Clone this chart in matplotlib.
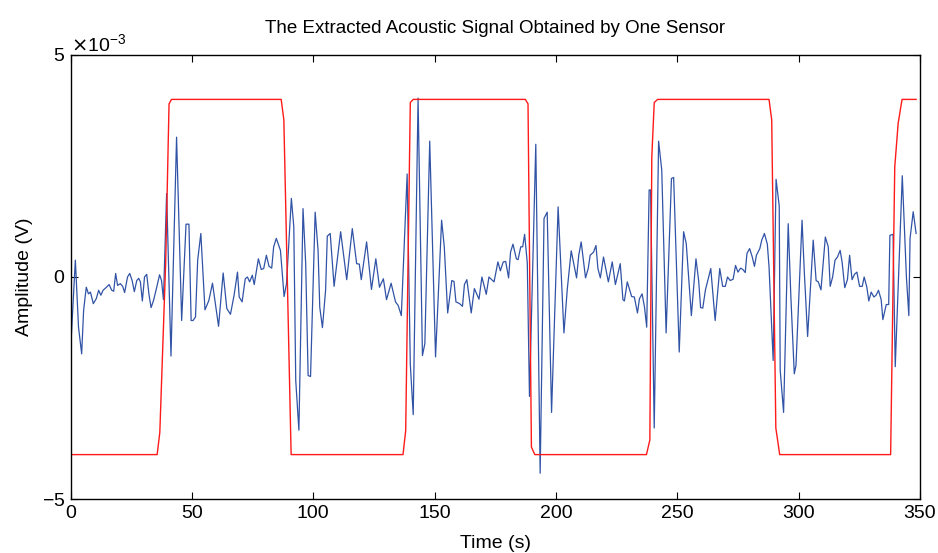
import matplotlib.pyplot as plt
from matplotlib.ticker import ScalarFormatter
import numpy as np

plt.rcParams['font.family'] = ['Liberation Sans', 'DejaVu Sans']

# blue trace: vertices (time in s, amplitude in mV)
sig_t = [0.4, 2.0, 3.3, 4.6, 5.4, 6.5, 7.4, 8.2, 9.4, 10.6, 11.6, 12.5, 13.4, 14.8, 15.9,
         17.0, 17.8, 18.6, 19.4, 20.5, 21.5, 22.3, 23.5, 24.4, 25.4, 26.3, 27.3, 28.1, 28.8,
         29.6, 30.5, 31.4, 32.3, 33.2, 34.2, 35.4, 36.7, 37.5, 38.3, 39.6, 41.4, 43.7, 45.8,
         47.6, 48.8, 49.7, 50.5, 51.5, 52.4, 53.7, 55.4, 57.0, 58.5, 61.0, 62.9, 64.4, 65.9,
         67.4, 68.8, 69.5, 70.7, 72.0, 72.9, 73.8, 74.9, 75.7, 77.4, 78.6, 79.6, 80.7, 81.8,
         82.9, 83.7, 84.8, 86.5, 88.0, 89.0, 91.0, 92.0, 92.8, 94.1, 95.8, 96.9, 97.9, 98.9,
         100.8, 102.0, 102.7, 103.8, 105.1, 105.8, 107.0, 108.6, 111.3, 113.8, 116.1, 117.9,
         119.0, 119.8, 122.0, 124.0, 125.8, 127.3, 128.9, 130.2, 132.1, 133.9, 135.0, 136.3,
         138.7, 140.0, 141.2, 143.2, 145.0, 146.0, 148.0, 150.4, 152.9, 154.0, 155.4, 157.1,
         158.0, 158.8, 160.3, 161.5, 162.3, 163.3, 165.1, 166.4, 168.3, 169.5, 171.3, 172.4,
         174.5, 176.1, 177.1, 178.3, 179.3, 180.5, 181.3, 182.3, 183.7, 184.4, 185.5, 186.3,
         187.1, 188.2, 189.1, 191.7, 193.5, 195.1, 196.4, 198.2, 200.9, 203.3, 204.7, 206.3,
         208.5, 209.4, 210.4, 212.2, 213.3, 214.1, 215.5, 216.5, 217.3, 218.3, 219.6, 221.6,
         223.2, 224.5, 226.5, 227.6, 228.2, 229.4, 231.2, 232.3, 233.6, 234.4, 235.5, 236.5,
         237.4, 238.4, 239.0, 240.5, 242.3, 243.6, 245.4, 247.6, 248.5, 250.8, 252.6, 253.7,
         255.8, 257.7, 258.8, 259.6, 260.5, 261.6, 263.8, 265.6, 267.5, 268.7, 269.8, 270.7,
         271.8, 273.0, 274.0, 275.0, 276.1, 277.0, 278.0, 278.7, 279.8, 280.9, 281.8, 282.6,
         284.0, 284.8, 285.9, 287.1, 287.8, 289.5, 290.7, 292.0, 292.4, 293.8, 295.7, 296.8,
         298.2, 298.9, 301.4, 302.3, 303.7, 306.0, 307.2, 308.1, 309.2, 311.0, 312.2, 313.0,
         314.0, 315.0, 316.0, 317.1, 317.9, 319.0, 320.1, 321.0, 322.0, 323.0, 324.0, 325.1,
         326.2, 327.0, 328.1, 328.9, 329.9, 331.0, 331.9, 332.9, 334.0, 334.7, 336.1, 337.1,
         337.6, 338.9, 339.8, 342.7, 344.4, 345.4, 345.9, 347.2, 348.4]
sig_mv = [-1.28, 0.38, -1.13, -1.73, -0.75, -0.23, -0.38, -0.34, -0.60, -0.49, -0.30, -0.41,
          -0.30, -0.23, -0.17, -0.30, -0.32, 0.08, -0.19, -0.15, -0.21, -0.35, 0.00, 0.08,
          -0.08, -0.33, -0.08, -0.03, -0.11, -0.54, 0.00, 0.06, -0.38, -0.69, -0.53, -0.26,
          0.05, -0.08, -0.51, 1.88, -1.78, 3.15, -0.98, 1.19, 1.19, -0.98, -0.98, -0.90, 0.38,
          0.98, -0.74, -0.53, -0.14, -1.11, 0.09, -0.71, -0.84,
          -0.41, 0.11, -0.45, -0.56, -0.04, 0.00, -0.11, 0.04, -0.17, 0.41, 0.17, 0.19, 0.49,
          0.24, 0.20, 0.68, 0.87, 0.60, -0.44, -0.15, 1.77, 1.13, -2.33, -3.45, 1.54, 0.30,
          -2.22, -2.24, 1.46, 0.60, -0.68, -1.14, -0.30, 0.92, 0.98, -0.21, 1.02, -0.06, 1.09,
          0.30, 0.29, -0.06, 0.79, -0.28, 0.41, -0.23, -0.04, -0.51, -0.14, -0.56, -0.64,
          -0.87, 2.32, -1.96, -3.10, 4.03, -1.77, -1.50, 3.06, -1.80, 1.28, 0.68, -0.81, -0.08,
          -0.10, -0.56, -0.60, -0.66, -0.17, -0.06, -0.81, -0.26, -0.50, 0.00, -0.39, 0.00,
          -0.11, 0.34, 0.14, 0.34, 0.35, -0.02, 0.56, 0.74, 0.41, 0.39, 0.68, 0.68, 0.96, 0.32,
          -2.69, 2.99, -4.42, 1.32, 1.46, -3.05, 1.58, -1.26, -0.26, 0.59, -0.02, 0.49, 0.79,
          -0.02, 0.19, 0.49, 0.56, 0.71, 0.19, -0.02, 0.45, -0.11, 0.34, -0.17, 0.30, -0.51,
          -0.54, -0.11, -0.44, -0.45, -0.81, -0.49, -0.38, -0.68, -1.13, 1.96, 1.96, -3.40,
          3.06, 2.41, -1.26, 2.22, 2.24, -1.69, 1.02, 0.75, -0.87, 0.41, -0.08, -0.69, -0.70,
          -0.29, 0.19, -0.98, 0.19, -0.21, -0.21, 0.00, -0.08, -0.05, 0.26, 0.11, 0.20, 0.17,
          0.10, 0.53, 0.64, 0.45, 0.24, 0.49, 0.64, 0.83, 0.98, 0.74, 0.23, -1.88, 2.20, 1.60,
          -2.10, -3.05, 1.20, -0.45, -2.18, -1.99, 1.28, 0.15, -1.34, 0.83, -0.08, -0.11, -0.29,
          0.90, 0.68, -0.21, 0.00, 0.38, 0.45, 0.60, 0.34, -0.24, -0.06, 0.49, -0.06, 0.06,
          0.11, -0.21, -0.21, 0.00, -0.23, -0.54, -0.34, -0.45, -0.41, -0.30, -0.51, -0.96,
          -0.62, -0.62, 0.94, 0.96, -2.02, 2.28, 0.00, -0.87, 0.87, 1.47, 0.98]

# red reference wave: corner points (time in s, level in mV)
ref_t = [0.4, 35.7, 36.8, 39.2, 40.6, 41.6, 86.8, 87.9, 90.9, 137.0, 138.1, 140.0, 141.2,
         187.4, 188.5, 189.9, 191.3, 237.3, 238.7, 239.5, 240.5, 241.9, 287.8, 288.9, 290.6,
         292.2, 337.9, 339.6, 341.0, 342.6, 348.4]
ref_mv = [-4.0, -4.0, -3.5, 0.3, 3.9, 4.0, 4.0, 3.54, -4.0, -4.0, -3.46, 3.93, 4.0,
          4.0, 3.9, -3.83, -4.0, -4.0, -3.67, 2.7, 3.93, 4.0, 4.0, 3.54, -3.4,
          -4.0, -4.0, 2.48, 3.46, 4.0, 4.0]

fig = plt.figure(figsize=(9.38, 5.53), dpi=100)
ax = fig.add_axes([70.5 / 938, 1 - 499 / 553, (920 - 70.5) / 938, (499 - 55) / 553])

ax.plot(sig_t, np.array(sig_mv) * 1e-3, color='#3153a6', linewidth=0.9)
ax.plot(ref_t, np.array(ref_mv) * 1e-3, color='#ff1a1a', linewidth=1.0)

ax.set_xlim(0, 350)
ax.set_ylim(-5e-3, 5e-3)
ax.set_xticks(np.arange(0, 351, 50))
ax.set_yticks([-5e-3, 0, 5e-3])

fmt = ScalarFormatter(useMathText=True)
fmt.set_powerlimits((-2, 2))
ax.yaxis.set_major_formatter(fmt)
ax.yaxis.get_offset_text().set_fontsize(14)

ax.tick_params(direction='in', top=True, right=True, length=5, width=0.8,
               labelsize=14, pad=4)
for s in ax.spines.values():
    s.set_linewidth(1.0)

ax.set_title("The Extracted Acoustic Signal Obtained by One Sensor", fontsize=13.5, pad=16)
ax.set_xlabel("Time (s)", fontsize=14, labelpad=10)
ax.set_ylabel("Amplitude (V)", fontsize=14, labelpad=6)

plt.savefig("out.png", dpi=100)
